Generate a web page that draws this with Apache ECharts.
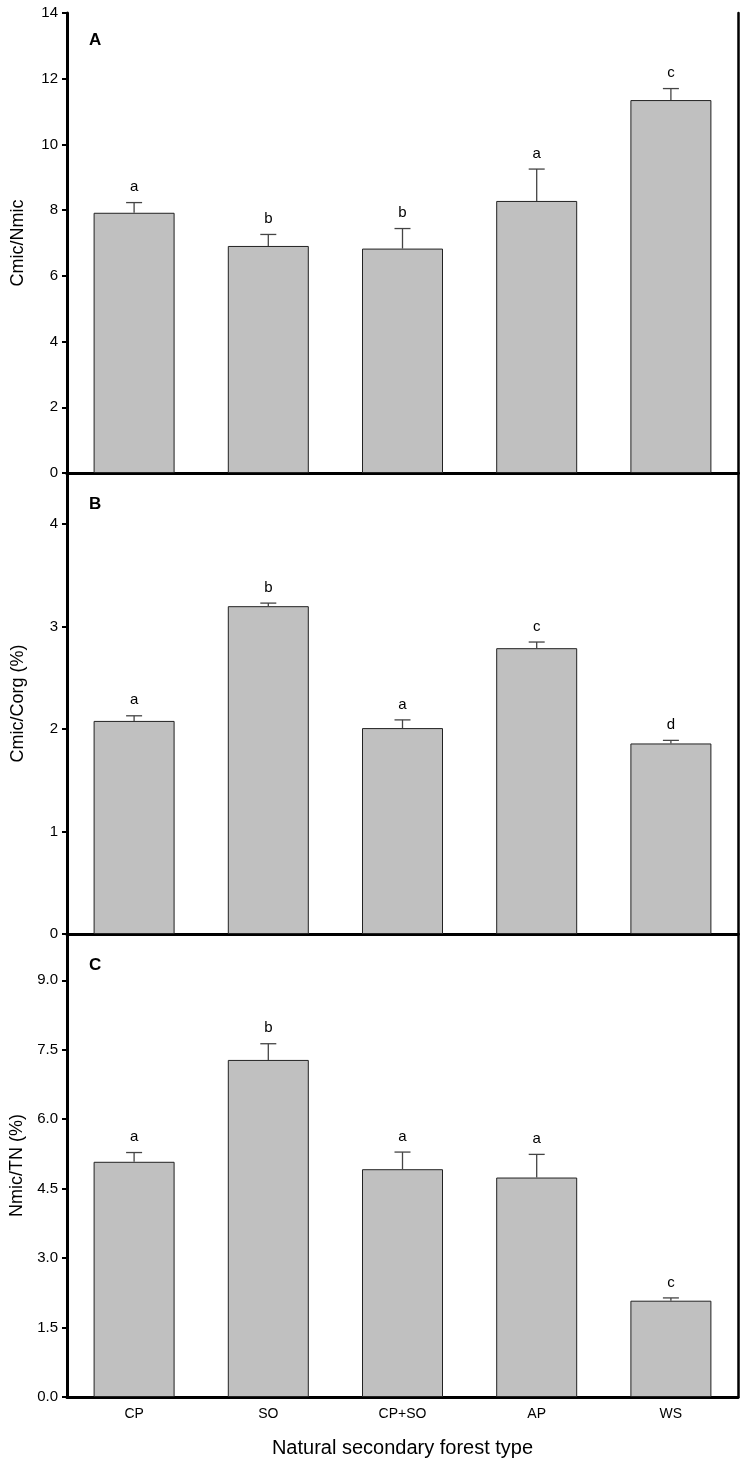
<!DOCTYPE html>
<html>
<head>
<meta charset="utf-8">
<script src="https://cdn.jsdelivr.net/npm/echarts@6/dist/echarts.min.js"></script>
<style>
html,body{margin:0;padding:0;background:#fff;}
#chart{width:745px;height:1465px;}
</style>
</head>
<body>
<div id="chart"></div>
<script>
// ---- Data ----
const categories = ['CP', 'SO', 'CP+SO', 'AP', 'WS'];

const cmicNmic = [7.92, 6.91, 6.83, 8.28, 11.35];
const cmicNmicErr = [0.31, 0.35, 0.61, 0.97, 0.35];
const cmicNmicLetters = ['a', 'b', 'b', 'a', 'c'];

const cmicCorg = [2.08, 3.20, 2.01, 2.79, 1.86];
const cmicCorgErr = [0.05, 0.03, 0.08, 0.06, 0.03];
const cmicCorgLetters = ['a', 'b', 'a', 'c', 'd'];

const nmicTN = [5.08, 7.28, 4.92, 4.74, 2.08];
const nmicTNErr = [0.20, 0.35, 0.37, 0.50, 0.06];
const nmicTNLetters = ['a', 'b', 'a', 'a', 'c'];

const panelLetters = ['A', 'B', 'C'];
const yNames = ['Cmic/Nmic', 'Cmic/Corg (%)', 'Nmic/TN (%)'];
const xName = 'Natural secondary forest type';

// ---- Layout ----
const FONT = "'Liberation Sans', Arial, sans-serif";
const gridLeft = 67, gridWidth = 671;
const grids = [
  {left: gridLeft, top: 13, width: gridWidth, height: 460},
  {left: gridLeft, top: 473, width: gridWidth, height: 461},
  {left: gridLeft, top: 934, width: gridWidth, height: 463}
];
const yScales = [
  {min: 0, max: 14, interval: 2, showMax: true, fmt: v => String(v)},
  {min: 0, max: 4.5, interval: 1, showMax: false, fmt: v => String(v)},
  {min: 0, max: 10, interval: 1.5, showMax: false, fmt: v => v.toFixed(1)}
];
const values = [cmicNmic, cmicCorg, nmicTN];
const errs = [cmicNmicErr, cmicCorgErr, nmicTNErr];
const letters = [cmicNmicLetters, cmicCorgLetters, nmicTNLetters];

const xAxes = [], yAxes = [], series = [];
grids.forEach((g, i) => {
  const isLast = i === grids.length - 1;
  xAxes.push({
    type: 'category', gridIndex: i, data: categories, position: 'bottom',
    axisLine: {lineStyle: {color: '#000', width: 3}},
    axisTick: {alignWithLabel: true, length: 5, lineStyle: {color: '#000', width: 2}},
    axisLabel: {show: isLast, color: '#000', fontSize: 14, fontFamily: FONT, margin: 10},
    name: isLast ? xName : '', nameLocation: 'middle', nameGap: 41,
    nameTextStyle: {color: '#000', fontSize: 20, fontFamily: FONT},
    splitLine: {show: false}
  });
  if (i === 0) {
    xAxes.push({
      type: 'category', gridIndex: i, data: categories, position: 'top',
      axisLine: {lineStyle: {color: '#000', width: 3}},
      axisTick: {show: false}, axisLabel: {show: false}, splitLine: {show: false}
    });
  }
  const s = yScales[i];
  yAxes.push({
    type: 'value', gridIndex: i, min: s.min, max: s.max, interval: s.interval, position: 'left',
    axisLine: {show: true, lineStyle: {color: '#000', width: 3}},
    axisTick: {show: true, inside: false, length: 5, lineStyle: {color: '#000', width: 2}},
    axisLabel: {color: '#000', fontSize: 15, fontFamily: FONT, margin: 9, showMaxLabel: s.showMax, formatter: s.fmt},
    splitLine: {show: false},
    name: yNames[i], nameLocation: 'middle', nameGap: 40,
    nameTextStyle: {color: '#000', fontSize: 18, fontFamily: FONT}
  });
  yAxes.push({
    type: 'value', gridIndex: i, min: s.min, max: s.max, position: 'right',
    axisLine: {show: true, lineStyle: {color: '#000', width: 2.5}},
    axisTick: {show: false}, axisLabel: {show: false}, splitLine: {show: false}
  });
});

// axis index mapping
const xIdx = [0, 2, 3];
const yIdx = [0, 2, 4];

grids.forEach((g, i) => {
  series.push({
    type: 'bar', xAxisIndex: xIdx[i], yAxisIndex: yIdx[i],
    data: values[i], barWidth: 81,
    itemStyle: {color: '#c0c0c0', borderColor: '#222', borderWidth: 1},
    silent: true, z: 2
  });
  const data = values[i].map((v, k) => [k, v, errs[i][k]]);
  const lets = letters[i];
  series.push({
    type: 'custom', xAxisIndex: xIdx[i], yAxisIndex: yIdx[i],
    data: data, z: 3, silent: true,
    renderItem: function (params, api) {
      const x = api.value(0), v = api.value(1), e = api.value(2);
      const p0 = api.coord([x, v]);
      const p1 = api.coord([x, v + e]);
      return {
        type: 'group',
        children: [
          {type: 'line', shape: {x1: p0[0], y1: p0[1], x2: p1[0], y2: p1[1]}, style: {stroke: '#444', lineWidth: 1.3}},
          {type: 'line', shape: {x1: p1[0] - 8, y1: p1[1], x2: p1[0] + 8, y2: p1[1]}, style: {stroke: '#444', lineWidth: 1.3}},
          {type: 'text', style: {text: lets[params.dataIndex], x: p1[0], y: p1[1] - 8, textAlign: 'center', textVerticalAlign: 'bottom', fontSize: 15, fontFamily: FONT, fill: '#000'}}
        ]
      };
    }
  });
});

const panelLabelY = [32, 496, 957];
const graphics = panelLetters.map((t, i) => ({
  type: 'text', left: 89, top: panelLabelY[i],
  style: {text: t, fontSize: 17, fontWeight: 'bold', fontFamily: FONT, fill: '#000'}
}));

const chart = echarts.init(document.getElementById('chart'), null, {renderer: 'canvas'});
chart.setOption({
  animation: false,
  backgroundColor: '#fff',
  grid: grids,
  xAxis: xAxes,
  yAxis: yAxes,
  series: series,
  graphic: graphics
});
</script>
</body>
</html>
